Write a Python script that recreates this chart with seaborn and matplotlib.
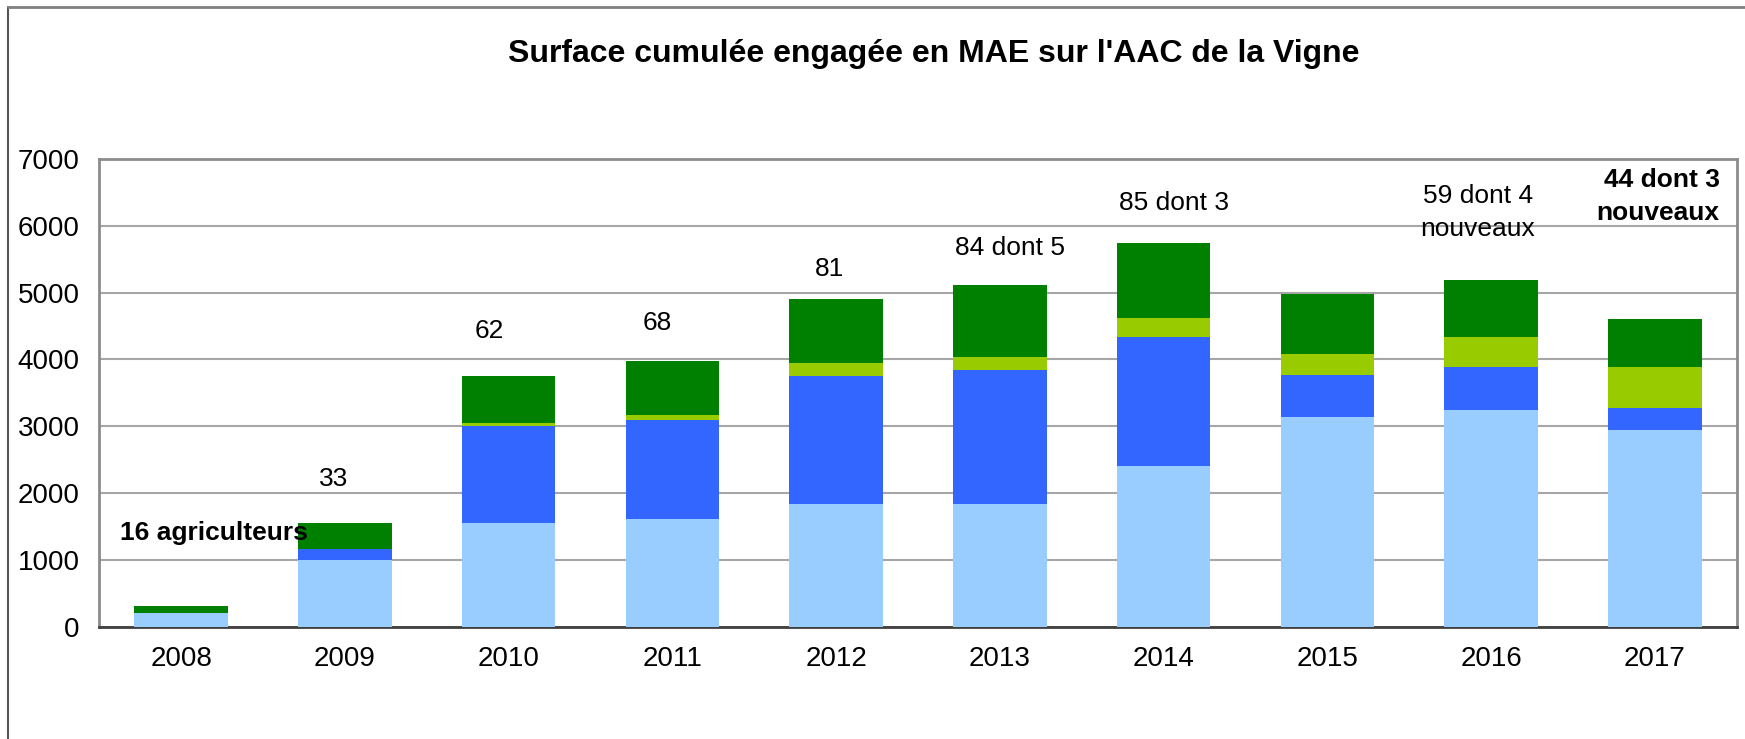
import numpy as np
import pandas as pd
import matplotlib
matplotlib.use("Agg")
import matplotlib.pyplot as plt
from matplotlib.lines import Line2D
import seaborn as sns

years = ["2008", "2009", "2010", "2011", "2012", "2013", "2014", "2015", "2016", "2017"]
light_blue = [200, 1000, 1550, 1610, 1830, 1830, 2400, 3140, 3250, 2950]
dark_blue = [0, 166, 1460, 1490, 1918, 2008, 1933, 632, 638, 319]
lime = [0, 0, 45, 74, 205, 204, 294, 304, 453, 623]
green = [110, 393, 702, 797, 946, 1071, 1121, 907, 852, 707]

y_ticks = [0, 1000, 2000, 3000, 4000, 5000, 6000, 7000]

title = "Surface cumulée engagée en MAE sur l'AAC de la Vigne"

# annotation texts with (category position, value)
ann_texts = ["16 agriculteurs", "33", "62", "68", "81", "84 dont 5", "85 dont 3",
             "59 dont 4\nnouveaux", "44 dont 3\nnouveaux"]
ann_x = [0.20, 0.93, 1.885, 2.905, 3.96, 5.06, 6.065, 7.92, 9.02]
ann_y = [1400, 2217, 4433, 4549, 5349, 5665, 6348, 6200, 6440]
ann_bold = [True, False, False, False, False, False, False, False, True]

sns.set_theme(style="white")
plt.rcParams['font.family'] = ['Liberation Sans', 'DejaVu Sans']

fig = plt.figure(figsize=(17.45, 7.39), dpi=100)
ax = fig.add_axes([0.0569, 0.1520, 0.9952 - 0.0569, 0.7848 - 0.1520])

layers = [light_blue, dark_blue, lime, green]
colors = ["#99CCFF", "#3366FF", "#99CC00", "#008000"]
cum = np.cumsum(np.array(layers), axis=0)

df = pd.DataFrame({"year": years})
for i in range(len(layers) - 1, -1, -1):
    df["val"] = cum[i]
    sns.barplot(data=df, x="year", y="val", color=colors[i], width=0.571,
                saturation=1, ax=ax, linewidth=0, order=years, zorder=3)

ax.set_ylim(0, 7000)
ax.set_xlim(-0.5, len(years) - 0.5)
ax.set_yticks(y_ticks)
ax.set_yticklabels([str(v) for v in y_ticks], fontsize=20)
ax.tick_params(axis="y", length=0, pad=14)
ax.tick_params(axis="x", length=0, pad=14, labelsize=20)
for lab in ax.get_xticklabels() + ax.get_yticklabels():
    lab.set_color("black")
ax.set_xlabel("")
ax.set_ylabel("")

ax.yaxis.grid(True, color="#a6a6a6", linewidth=1.5, zorder=0)
ax.set_axisbelow(True)
for s in ["left", "top", "right"]:
    ax.spines[s].set_color("#8c8c8c")
    ax.spines[s].set_linewidth(2)
ax.spines["bottom"].set_color("#404040")
ax.spines["bottom"].set_linewidth(2)

for t, x, y, b in zip(ann_texts, ann_x, ann_y, ann_bold):
    ax.text(x, y, t, ha="center", va="center", fontsize=19,
            fontweight="bold" if b else "normal", color="black",
            multialignment="right" if b else "center", zorder=5,
            linespacing=1.45)

fig.text(934 / 1745, 1 - 54 / 739, title, ha="center", va="center",
         fontsize=23, fontweight="bold", color="black")

# outer chart frame (left and top edges visible)
fig.add_artist(Line2D([7.5 / 1745, 7.5 / 1745], [0, 1 - 7 / 739],
                      transform=fig.transFigure, color="#555555", linewidth=1.5))
fig.add_artist(Line2D([7.5 / 1745, 1], [1 - 7 / 739, 1 - 7 / 739],
                      transform=fig.transFigure, color="#808080", linewidth=2))

fig.savefig("out.png", dpi=100, facecolor="white")
